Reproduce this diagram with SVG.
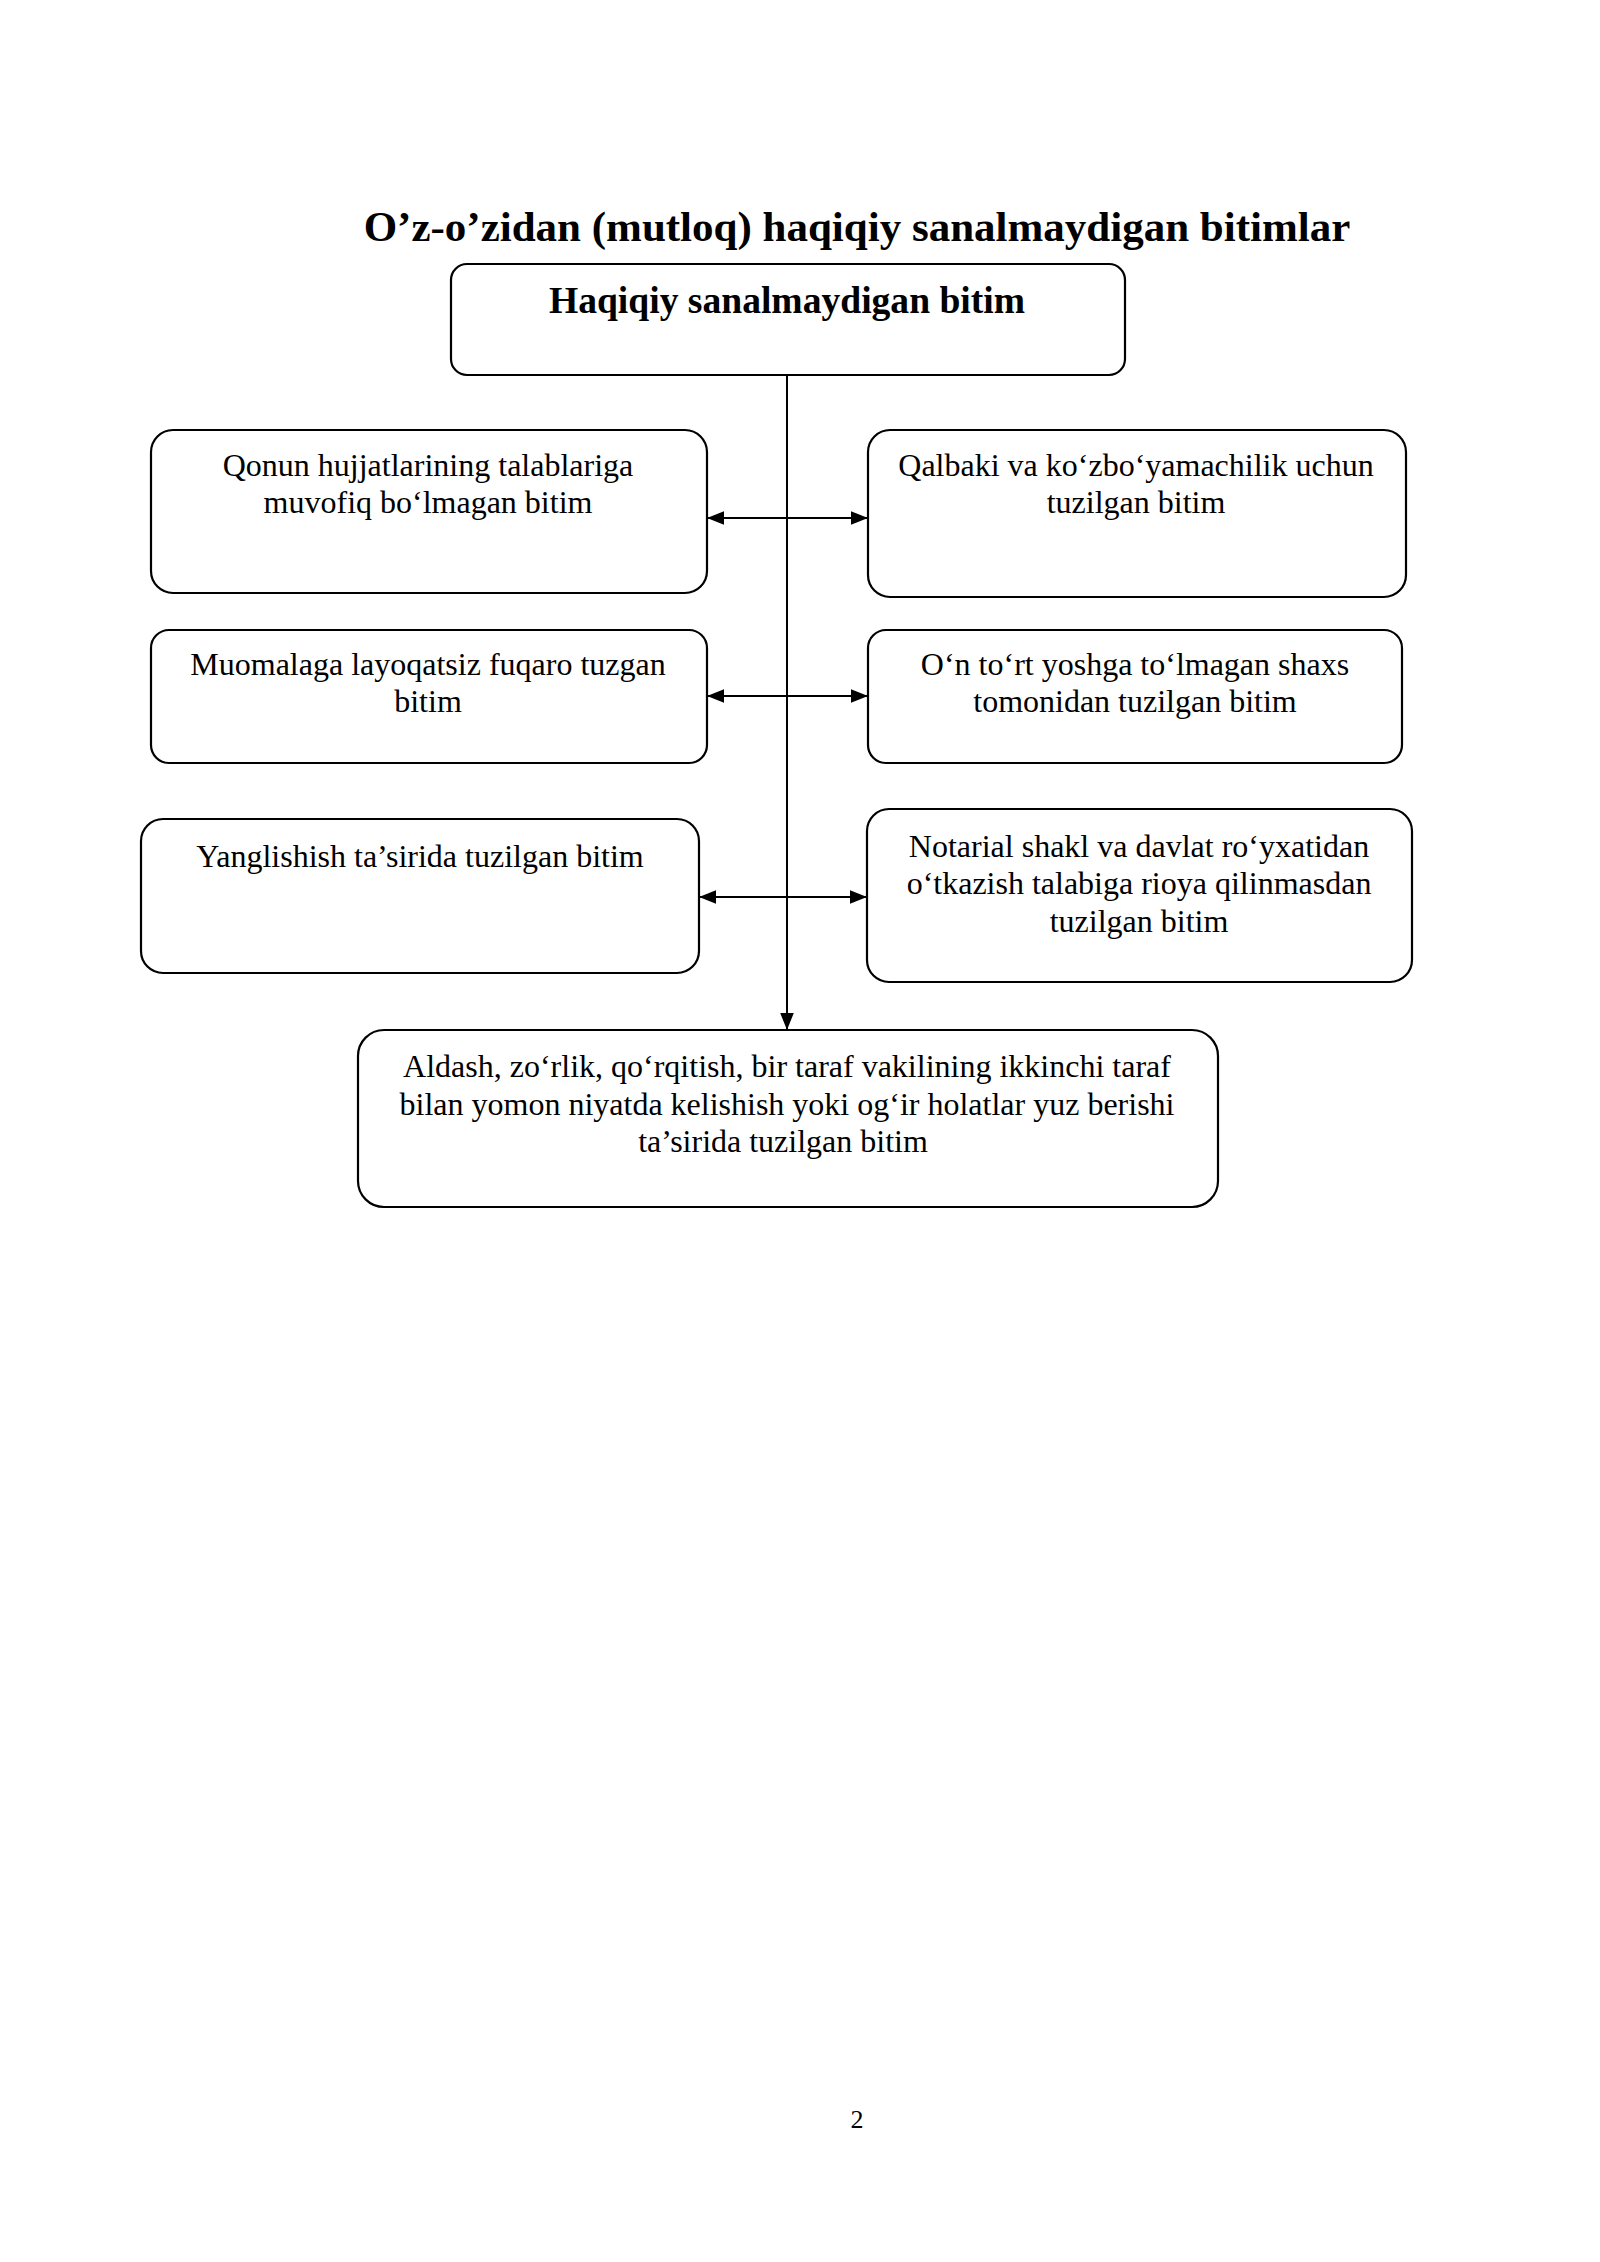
<svg xmlns="http://www.w3.org/2000/svg" width="1600" height="2262" viewBox="0 0 1600 2262">
<defs>
<style>
.box{fill:#fff;stroke:#000;stroke-width:2.2}
.t{font-family:"Liberation Serif","Times New Roman",serif;font-size:32px;fill:#000;text-anchor:middle}
.b{font-family:"Liberation Serif","Times New Roman",serif;font-weight:bold;fill:#000;text-anchor:middle}
.ln{stroke:#000;stroke-width:2;fill:none}
</style>
<marker id="ah2" viewBox="0 0 10 10" refX="10" refY="5" markerWidth="17" markerHeight="17" markerUnits="userSpaceOnUse" orient="auto-start-reverse">
<path d="M0,1 L10,5 L0,9 z" fill="#000"/>
</marker>
</defs>
<rect width="1600" height="2262" fill="#fff"/>
<text class="b" x="857" y="241" font-size="43">O’z-o’zidan (mutloq) haqiqiy sanalmaydigan bitimlar</text>

<g id="connectors">
<line class="ln" x1="787" y1="375" x2="787" y2="1030" marker-end="url(#ah2)"/>
<line class="ln" x1="707" y1="518" x2="868" y2="518" marker-start="url(#ah2)" marker-end="url(#ah2)"/>
<line class="ln" x1="707" y1="696" x2="868" y2="696" marker-start="url(#ah2)" marker-end="url(#ah2)"/>
<line class="ln" x1="699" y1="897" x2="867" y2="897" marker-start="url(#ah2)" marker-end="url(#ah2)"/>
</g>

<g id="root">
<rect class="box" x="451" y="264" width="674" height="111" rx="16"/>
<text class="b" x="787" y="313" font-size="37.6">Haqiqiy sanalmaydigan bitim</text>
</g>

<g id="n1">
<rect class="box" x="151" y="430" width="556" height="163" rx="22"/>
<text class="t" x="428" y="476">Qonun hujjatlarining talablariga</text>
<text class="t" x="428" y="513">muvofiq bo‘lmagan bitim</text>
</g>

<g id="n2">
<rect class="box" x="868" y="430" width="538" height="167" rx="22"/>
<text class="t" x="1136" y="476">Qalbaki va ko‘zbo‘yamachilik uchun</text>
<text class="t" x="1136" y="513">tuzilgan bitim</text>
</g>

<g id="n3">
<rect class="box" x="151" y="630" width="556" height="133" rx="18"/>
<text class="t" x="428" y="675">Muomalaga layoqatsiz fuqaro tuzgan</text>
<text class="t" x="428" y="712">bitim</text>
</g>

<g id="n4">
<rect class="box" x="868" y="630" width="534" height="133" rx="18"/>
<text class="t" x="1135" y="675">O‘n to‘rt yoshga to‘lmagan shaxs</text>
<text class="t" x="1135" y="712">tomonidan tuzilgan bitim</text>
</g>

<g id="n5">
<rect class="box" x="141" y="819" width="558" height="154" rx="22"/>
<text class="t" x="420" y="867">Yanglishish ta’sirida tuzilgan bitim</text>
</g>

<g id="n6">
<rect class="box" x="867" y="809" width="545" height="173" rx="22"/>
<text class="t" x="1139" y="857">Notarial shakl va davlat ro‘yxatidan</text>
<text class="t" x="1139" y="894">o‘tkazish talabiga rioya qilinmasdan</text>
<text class="t" x="1139" y="932">tuzilgan bitim</text>
</g>

<g id="n7">
<rect class="box" x="358" y="1030" width="860" height="177" rx="26"/>
<text class="t" x="787" y="1077">Aldash, zo‘rlik, qo‘rqitish, bir taraf vakilining ikkinchi taraf</text>
<text class="t" x="787" y="1115">bilan yomon niyatda kelishish yoki og‘ir holatlar yuz berishi</text>
<text class="t" x="783" y="1152">ta’sirida tuzilgan bitim</text>
</g>

<text class="t" x="857" y="2128" style="font-size:26px">2</text>
</svg>
